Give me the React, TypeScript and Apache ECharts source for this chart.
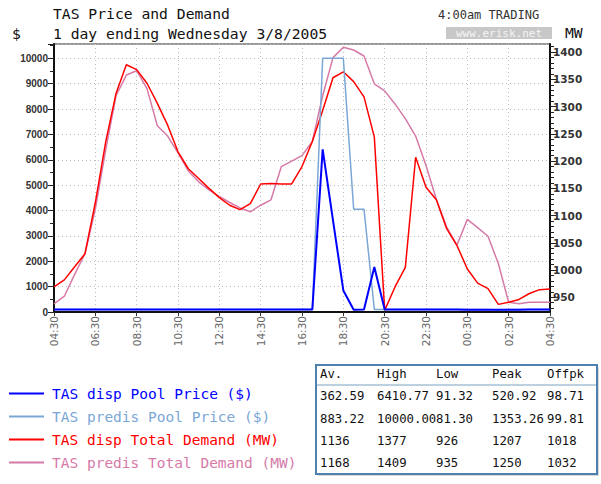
import React, { useEffect, useRef } from "react";
import * as echarts from "echarts";

// x positions are half-hour slots from 04:30 (slot 0) to 04:30 next day (slot 48)
const timeLabels = ["04:30", "06:30", "08:30", "10:30", "12:30", "14:30", "16:30", "18:30", "20:30", "22:30", "00:30", "02:30", "04:30"];

const dispPrice = [
  96, 95, 94, 95, 96, 97, 98, 99, 99, 98, 97, 97, 96, 96, 95, 95, 95, 96, 97, 97, 96, 96, 97, 98, 99,
  100, 6410.77, 3610, 850, 92, 95, 1775, 96, 98, 99, 98, 97, 96, 95, 94, 93, 92, 92, 91.32, 92, 93, 95, 97, 99,
];
const predisPrice = [
  100, 99, 99, 99, 100, 100, 100, 100, 100, 100, 100, 100, 100, 100, 100, 100, 100, 100, 100, 100, 100, 100, 100, 100, 100,
  100, 10000, 10000, 10000, 4055, 4055, 100, 100, 100, 100, 100, 100, 100, 100, 100, 99, 99, 95, 81.3, 95, 99, 100, 100, 100,
];
const dispDemand = [
  969, 982, 1006, 1030, 1124, 1235, 1324, 1377, 1368, 1343, 1306, 1266, 1217, 1186, 1168, 1150, 1133, 1119, 1111, 1122, 1158, 1159, 1158, 1158, 1190,
  1236, 1293, 1353, 1364, 1346, 1318, 1244, 926, 969, 1005, 1207, 1152, 1129, 1076, 1045, 1002, 976, 966, 937, 941, 946, 957, 964, 965,
];
const predisDemand = [
  938, 952, 992, 1030, 1112, 1220, 1320, 1358, 1366, 1333, 1265, 1246, 1215, 1182, 1162, 1147, 1135, 1124, 1114, 1107, 1119, 1129, 1190, 1200, 1210,
  1236, 1320, 1390, 1409, 1404, 1393, 1342, 1329, 1305, 1278, 1246, 1192, 1130, 1079, 1046, 1093, 1078, 1062, 1012, 941, 938, 941, 941, 941,
];

const priceTicks = [0, 1000, 2000, 3000, 4000, 5000, 6000, 7000, 8000, 9000, 10000];
const mwLabels = [950, 1000, 1050, 1100, 1150, 1200, 1250, 1300, 1350, 1400];
const mwMinorTicks = [930, 940, 960, 970, 980, 990, 1010, 1020, 1030, 1040, 1060, 1070, 1080, 1090, 1110, 1120, 1130, 1140, 1160, 1170, 1180, 1190, 1210, 1220, 1230, 1240, 1260, 1270, 1280, 1290, 1310, 1320, 1330, 1340, 1360, 1370, 1380, 1390, 1410];

const seriesNames = ["TAS disp Pool Price ($)", "TAS predis Pool Price ($)", "TAS disp Total Demand (MW)", "TAS predis Total Demand (MW)"];
const seriesColors = ["#0000ff", "#7ba7d6", "#ff0000", "#d67aa8"];

const statHeaders = ["Av.", "High", "Low", "Peak", "Offpk"];
const statDispPrice = ["362.59", "6410.77", "91.32", "520.92", "98.71"];
const statPredisPrice = ["883.22", "10000.00", "81.30", "1353.26", "99.81"];
const statDispDemand = ["1136", "1377", "926", "1207", "1018"];
const statPredisDemand = ["1168", "1409", "935", "1250", "1032"];

const MONO = '"DejaVu Sans Mono", monospace';

export default function App() {
  const ref = useRef<HTMLDivElement>(null);
  useEffect(() => {
    const chart = echarts.init(ref.current!, null, { renderer: "svg" });
    const pairs = (arr: number[]) => arr.map((v, i) => [i, v]);

    const tableRows = [statHeaders, statDispPrice, statPredisPrice, statDispDemand, statPredisDemand];
    const colX = [320, 377, 436, 492, 547];
    const rowY = [374, 396, 419, 441, 463];
    const tableTexts: any[] = [];
    tableRows.forEach((row, r) =>
      row.forEach((t, c) =>
        tableTexts.push({
          type: "text",
          style: { text: t, x: colX[c], y: rowY[r], font: `12.3px ${MONO}`, fill: "#111", verticalAlign: "middle" },
        })
      )
    );

    const option: any = {
      animation: false,
      backgroundColor: "#ffffff",
      grid: { left: 54, right: 51, top: 44, bottom: 172, show: true, borderColor: "#333", borderWidth: 1, containLabel: false, outerBoundsMode: "none" },
      legend: {
        orient: "vertical",
        left: 3,
        top: 381,
        itemWidth: 35,
        itemHeight: 14,
        itemGap: 8,
        selectedMode: false,
        itemStyle: { opacity: 0 },
        data: seriesNames.map((n, i) => ({ name: n, textStyle: { color: seriesColors[i] } })),
        textStyle: { fontFamily: MONO, fontSize: 14.5, padding: [0, 0, 0, 3] },
      },
      xAxis: {
        type: "value",
        min: 0,
        max: 48,
        interval: 4,
        axisLine: { show: true, lineStyle: { color: "#111", width: 2 } },
        axisTick: { show: true, length: 4, lineStyle: { color: "#333" } },
        axisLabel: {
          rotate: 90,
          margin: 4,
          fontSize: 10.5,
          fontFamily: "DejaVu Sans",
          color: "#666",
          formatter: (v: number) => timeLabels[Math.round(v / 4)] ?? "",
        },
        splitLine: { show: true, lineStyle: { color: "#bbb", type: [1, 3] } },
      },
      yAxis: [
        {
          type: "value",
          position: "left",
          min: 0,
          max: 10565,
          interval: 1000,
          axisLine: { show: true, lineStyle: { color: "#111", width: 2 } },
          axisTick: { show: true, length: 6, lineStyle: { color: "#222" } },
          minorTick: { show: true, splitNumber: 2, length: 4, lineStyle: { color: "#222" } },
          axisLabel: {
            showMaxLabel: false,
            margin: 6,
            fontFamily: "Liberation Sans",
            fontWeight: "bold",
            fontSize: 10,
            color: "#333",
            formatter: (v: number) => (priceTicks.includes(v) ? String(v) : ""),
          },
          splitLine: { show: true, lineStyle: { color: "#bbb", type: [1, 3] } },
        },
        {
          type: "value",
          position: "right",
          min: 923,
          max: 1415,
          axisLine: { show: true, lineStyle: { color: "#111", width: 2 } },
          axisTick: { show: true, length: 7, customValues: mwLabels, lineStyle: { color: "#222" } },
          axisLabel: {
            customValues: mwLabels,
            margin: 3,
            fontFamily: "DejaVu Sans",
            fontWeight: "bold",
            fontSize: 10.5,
            color: "#333",
            formatter: (v: number) => String(v),
          },
          splitLine: { show: false },
        },
        {
          type: "value",
          position: "right",
          min: 923,
          max: 1415,
          axisLine: { show: false },
          axisTick: { show: true, length: 4, customValues: mwMinorTicks, lineStyle: { color: "#222" } },
          axisLabel: { show: false },
          splitLine: { show: false },
        },
      ],
      series: [
        { name: seriesNames[3], type: "line", yAxisIndex: 1, data: pairs(predisDemand), symbol: "none", color: seriesColors[3], lineStyle: { width: 1.5, color: seriesColors[3] } },
        { name: seriesNames[2], type: "line", yAxisIndex: 1, data: pairs(dispDemand), symbol: "none", color: seriesColors[2], lineStyle: { width: 1.5, color: seriesColors[2] } },
        { name: seriesNames[1], type: "line", yAxisIndex: 0, data: pairs(predisPrice), symbol: "none", color: seriesColors[1], lineStyle: { width: 1.5, color: seriesColors[1] } },
        { name: seriesNames[0], type: "line", yAxisIndex: 0, data: pairs(dispPrice), symbol: "none", color: seriesColors[0], lineStyle: { width: 2, color: seriesColors[0] } },
      ],
      graphic: [
        { type: "text", style: { text: "TAS Price and Demand", x: 53, y: 13, font: `14.7px ${MONO}`, fill: "#111", verticalAlign: "middle" } },
        { type: "text", style: { text: "1 day ending Wednesday 3/8/2005", x: 53, y: 33, font: `14.7px ${MONO}`, fill: "#111", verticalAlign: "middle" } },
        { type: "text", style: { text: "$", x: 12, y: 33, font: `14.7px ${MONO}`, fill: "#111", verticalAlign: "middle" } },
        { type: "text", style: { text: "MW", x: 565, y: 32, font: `14.7px ${MONO}`, fill: "#111", verticalAlign: "middle" } },
        { type: "text", style: { text: "4:00am TRADING", x: 438, y: 15, font: `12px ${MONO}`, fill: "#333", verticalAlign: "middle" } },
        { type: "rect", shape: { x: 446, y: 27, width: 106, height: 12 }, style: { fill: "#c8c8c8" } },
        { type: "text", style: { text: "www.erisk.net", x: 499, y: 33, font: `11px ${MONO}`, fill: "#f4f4f4", align: "center", verticalAlign: "middle" } },
        { type: "rect", shape: { x: 318, y: 367, width: 281, height: 109 }, style: { fill: "#d8d8d8" } },
        { type: "rect", shape: { x: 316, y: 365, width: 281, height: 109 }, style: { fill: "#ffffff", stroke: "#4f81b0", lineWidth: 2 } },
        { type: "line", shape: { x1: 317, y1: 385, x2: 596, y2: 385 }, style: { stroke: "#7aa0c0", lineWidth: 1 } },
        ...tableTexts,
      ],
    };
    chart.setOption(option);
    return () => chart.dispose();
  }, []);
  return <div ref={ref} style={{ position: "absolute", left: 0, top: 0, width: 601, height: 484, background: "#fff" }} />;
}
